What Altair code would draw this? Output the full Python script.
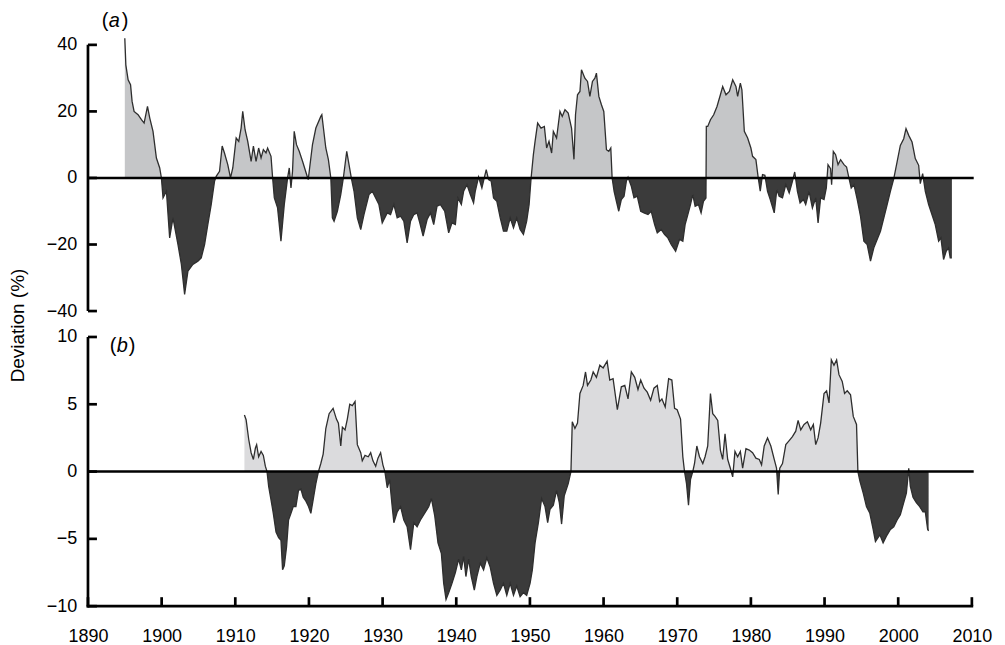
import altair as alt
import pandas as pd

# ---------------- data ----------------
A_YEAR = [
    1895.0, 1895.14, 1895.45, 1895.78, 1895.99, 1896.26, 1896.80, 1897.26, 1897.62, 1898.08,
    1898.39, 1898.83, 1899.29, 1899.74, 1899.97, 1900.19, 1900.65, 1901.09, 1901.54, 1902.22,
    1902.68, 1903.12, 1903.57, 1904.24, 1904.92, 1905.38, 1905.83, 1906.27, 1906.73, 1907.18,
    1907.41, 1907.86, 1908.22, 1908.53, 1908.98, 1909.35, 1909.66, 1910.12, 1910.47, 1910.79,
    1911.01, 1911.33, 1911.69, 1912.15, 1912.46, 1912.82, 1913.17, 1913.50, 1913.81, 1914.17,
    1914.39, 1914.85, 1915.07, 1915.30, 1915.74, 1916.20, 1916.65, 1917.10, 1917.33, 1917.56,
    1917.77, 1918.00, 1918.31, 1918.68, 1919.13, 1919.90, 1920.48, 1920.94, 1921.61, 1921.75,
    1922.29, 1922.64, 1922.97, 1923.18, 1923.41, 1923.86, 1924.32, 1924.67, 1925.13, 1925.44,
    1925.75, 1926.12, 1926.57, 1927.03, 1927.47, 1928.15, 1928.60, 1929.06, 1929.50, 1929.95,
    1930.63, 1931.08, 1931.53, 1931.98, 1932.44, 1932.88, 1933.33, 1933.79, 1934.24, 1934.68,
    1935.05, 1935.50, 1936.04, 1936.50, 1936.94, 1937.39, 1937.85, 1938.43, 1938.97, 1939.42,
    1939.88, 1940.23, 1940.69, 1941.00, 1941.45, 1941.91, 1942.35, 1942.58, 1943.03, 1943.48,
    1944.07, 1944.38, 1944.75, 1945.06, 1945.51, 1945.97, 1946.41, 1946.86, 1947.32, 1947.77,
    1948.21, 1948.67, 1949.12, 1949.56, 1949.89, 1950.16, 1950.47, 1950.70, 1951.05, 1951.51,
    1951.96, 1952.27, 1952.59, 1952.95, 1953.18, 1953.62, 1954.08, 1954.39, 1954.76, 1955.20,
    1955.65, 1955.98, 1956.19, 1956.46, 1956.79, 1957.00, 1957.46, 1957.82, 1958.14, 1958.49,
    1958.82, 1959.03, 1959.36, 1959.71, 1960.03, 1960.39, 1960.71, 1960.98, 1961.16, 1961.43,
    1961.74, 1962.06, 1962.41, 1962.78, 1963.09, 1963.32, 1963.77, 1964.13, 1964.58, 1965.04,
    1965.49, 1966.03, 1966.47, 1966.93, 1967.29, 1967.83, 1968.29, 1968.73, 1969.18, 1969.78,
    1970.31, 1970.76, 1971.07, 1971.44, 1971.80, 1972.11, 1972.43, 1972.88, 1973.24, 1973.56,
    1973.90, 1973.95, 1974.14, 1974.51, 1974.95, 1975.40, 1975.86, 1976.17, 1976.62, 1977.08,
    1977.53, 1977.97, 1978.20, 1978.57, 1978.78, 1979.11, 1979.56, 1980.00, 1980.23, 1980.68,
    1981.00, 1981.27, 1981.58, 1981.90, 1982.26, 1982.63, 1983.17, 1983.52, 1983.84, 1984.29,
    1984.74, 1985.20, 1985.64, 1985.95, 1986.32, 1986.68, 1987.13, 1987.44, 1987.90, 1988.35,
    1988.80, 1989.12, 1989.47, 1989.93, 1990.24, 1990.47, 1990.82, 1990.96, 1991.19, 1991.50,
    1991.83, 1992.18, 1992.64, 1992.99, 1993.31, 1993.62, 1993.99, 1994.44, 1994.88, 1995.34,
    1995.79, 1996.24, 1996.69, 1997.14, 1997.59, 1998.05, 1998.50, 1998.94, 1999.40, 1999.85,
    2000.29, 2000.75, 2001.06, 2001.43, 2001.88, 2002.32, 2002.78, 2003.00, 2003.32, 2003.68,
    2004.13, 2004.58, 2005.03, 2005.49, 2005.80, 2006.16, 2006.52, 2006.84, 2007.06, 2007.29,
]
A_VAL = [
    42, 34, 29.5, 28, 23, 20, 19, 17.5, 16.5, 21.5,
    18, 14, 6, 3, 0, -6, -4, -18, -12, -20,
    -26, -35, -28, -26, -25, -24, -20, -14, -8, -1,
    0.5, 2, 9.6, 7.5, 4, 0, 3, 12, 11, 15,
    20, 14.5, 11, 5, 9.6, 5, 9, 6, 8.5, 7.5,
    9, 6.5, 0, -6, -9, -19, -8, 0, 3, -3,
    2, 14, 10, 8, 5, -0.5, 10, 15, 18.5, 19,
    9, 5.5, 0, -12, -13, -10, -5, 0, 8, 4,
    0, -4, -12, -15.5, -11, -5, -4, -6, -8, -13.5,
    -10.5, -11, -8, -12, -11.5, -13, -19.5, -13, -11, -10.5,
    -13.5, -17.5, -12.5, -10.5, -14, -8.5, -8, -10, -16.5, -13.5,
    -14, -6, -8, -4, -2, -5, -7.5, -4, 0.3, -3,
    2.5, -0.5, -1, -6, -7, -12, -16, -16, -12, -15,
    -12, -15.5, -17, -13, -8, 0, 7, 11, 16.5, 15,
    15.5, 9, 11, 7.5, 14, 12, 20, 18.5, 20.5, 19.5,
    15, 5.6, 19, 25, 26, 32.5, 30, 29, 24.5, 29,
    30, 31.5, 24.5, 22, 20, 8.5, 8, 9, 0, -4,
    -7, -10, -6.5, -5.5, -1, 0.2, -2.5, -6, -5.5, -10,
    -10.5, -11, -10, -14, -16.5, -15.5, -17, -18, -20, -22,
    -18.5, -19, -14, -11, -8, -5, -8.5, -8, -10.5, -7,
    -6, 15.5, 15.5, 17.5, 19, 21.5, 25, 27.5, 25, 26,
    29.5, 27.5, 24.5, 28.5, 26.5, 14, 12, 9, 6.5, 5.5,
    0, -4, 1, 0.8, -4, -6.5, -10.5, -3.5, -5.5, -6,
    -2, -4.5, -1, 1.8, -4, -7.5, -6.5, -8, -4, -9,
    -6, -13.5, -6, -6.5, -3, 4, 2.8, -2, 8, 7,
    4, 5.5, 4, 3.3, 0, -3, -2, -6.5, -11.5, -19,
    -20, -25, -21, -18.5, -16, -12, -8, -4, -0.2, 4.8,
    9.8, 11.8, 14.8, 12.8, 10.8, 5.8, 3.8, -1.7, 1.3, -4,
    -8, -11, -14, -19, -18, -24.5, -22, -21, -24, -24,
]

B_YEAR = [
    1911.24, 1911.47, 1911.82, 1912.15, 1912.46, 1912.73, 1912.90, 1913.17, 1913.50, 1913.81,
    1914.08, 1914.31, 1914.53, 1914.85, 1915.16, 1915.53, 1915.88, 1916.20, 1916.42, 1916.65,
    1916.96, 1917.23, 1917.56, 1917.87, 1918.23, 1918.58, 1918.91, 1919.22, 1919.59, 1919.94,
    1920.26, 1920.57, 1920.94, 1921.29, 1921.61, 1921.93, 1922.29, 1922.74, 1923.28, 1923.73,
    1924.00, 1924.32, 1924.54, 1924.90, 1925.21, 1925.54, 1925.89, 1926.26, 1926.57, 1927.03,
    1927.24, 1927.61, 1928.05, 1928.38, 1928.69, 1929.06, 1929.37, 1929.73, 1930.04, 1930.31,
    1930.63, 1930.95, 1931.30, 1931.53, 1931.98, 1932.44, 1932.88, 1933.33, 1933.79, 1934.24,
    1934.68, 1935.14, 1935.82, 1936.27, 1936.63, 1937.08, 1937.52, 1937.98, 1938.29, 1938.61,
    1938.97, 1939.42, 1939.88, 1940.32, 1940.69, 1941.00, 1941.31, 1941.68, 1942.04, 1942.45,
    1942.80, 1943.26, 1943.71, 1944.15, 1944.61, 1945.06, 1945.51, 1945.97, 1946.41, 1946.86,
    1947.32, 1947.77, 1948.21, 1948.67, 1949.12, 1949.56, 1950.02, 1950.33, 1950.70, 1951.15,
    1951.59, 1952.05, 1952.41, 1952.73, 1953.18, 1953.62, 1953.99, 1954.30, 1954.66, 1955.20,
    1955.57, 1955.75, 1956.11, 1956.46, 1956.79, 1957.23, 1957.55, 1957.82, 1958.27, 1958.59,
    1959.03, 1959.49, 1959.94, 1960.48, 1960.84, 1961.29, 1961.87, 1962.41, 1962.88, 1963.32,
    1963.77, 1964.23, 1964.67, 1965.04, 1965.49, 1965.93, 1966.39, 1966.84, 1967.29, 1967.61,
    1967.92, 1968.37, 1968.83, 1969.27, 1969.64, 1969.99, 1970.45, 1970.76, 1970.99, 1971.26,
    1971.53, 1971.80, 1972.11, 1972.35, 1972.66, 1973.02, 1973.47, 1973.78, 1974.14, 1974.51,
    1974.82, 1975.13, 1975.50, 1975.86, 1976.17, 1976.49, 1976.85, 1977.21, 1977.53, 1977.84,
    1978.20, 1978.57, 1978.88, 1979.33, 1979.78, 1980.23, 1980.68, 1981.14, 1981.45, 1981.81,
    1982.26, 1982.71, 1983.17, 1983.48, 1983.71, 1983.92, 1984.29, 1984.74, 1985.20, 1985.64,
    1986.09, 1986.41, 1986.77, 1987.22, 1987.67, 1988.12, 1988.48, 1988.80, 1989.12, 1989.47,
    1989.93, 1990.28, 1990.61, 1990.92, 1991.28, 1991.64, 1991.96, 1992.40, 1992.72, 1993.08,
    1993.53, 1993.90, 1994.34, 1994.53, 1994.80, 1995.25, 1995.69, 1996.15, 1996.60, 1996.91,
    1997.51, 1997.95, 1998.40, 1998.94, 1999.40, 1999.85, 2000.29, 2000.75, 2001.11, 2001.43,
    2001.65, 2002.01, 2002.46, 2002.92, 2003.36, 2003.68, 2004.00, 2004.13,
]
B_VAL = [
    4.2, 3.85, 2.4, 1.4, 0.9, 1.75, 2.0, 1.1, 1.5, 1.2,
    0.4, 0, -1.1, -2.1, -3.1, -4.5, -4.9, -5.1, -7.3, -7.0,
    -5.6, -3.6, -3.1, -2.6, -2.6, -1.4, -1.3, -1.9, -2.2, -2.6,
    -3.1, -2.1, -0.9, 0, 0.6, 1.3, 3.2, 4.3, 4.7, 3.9,
    3.6, 1.9, 3.3, 3.1, 3.9, 5.0, 4.9, 5.2, 2.0, 1.4,
    0.8, 1.2, 1.1, 1.4, 0.8, 0.4, 1.0, 1.4, 0.5, 0,
    -1.2, -0.6, -2.6, -3.8, -3.0, -2.6, -3.6, -4.1, -5.8, -3.8,
    -4.1, -3.6, -3.0, -2.6, -2.0, -3.3, -5.3, -6.1, -8.3, -9.5,
    -9.0, -8.3, -7.5, -6.5, -7.3, -6.3, -7.8, -6.5, -7.8, -8.8,
    -7.8, -6.8, -7.3, -6.4, -7.1, -8.3, -9.2, -8.8, -8.3, -9.2,
    -8.3, -9.2, -8.5, -9.3, -9.0, -9.2, -8.3, -7.3, -5.3, -3.8,
    -2.0, -2.6, -3.8, -2.8, -2.5, -1.4, -2.3, -3.9, -1.8, -0.9,
    0, 3.7, 3.2, 3.6, 5.8, 6.4, 7.4, 6.4, 6.8, 7.4,
    7.0, 7.9, 7.7, 8.2, 6.8, 6.9, 4.6, 6.3, 6.4, 5.4,
    7.4, 7.0, 6.1, 6.8, 6.2, 5.9, 5.3, 6.2, 6.4, 5.2,
    5.4, 4.8, 6.9, 6.8, 4.7, 4.6, 3.9, 1.1, 0, -0.9,
    -2.5, -0.6, 0, 0.6, 1.9, 1.1, 0.6, 1.1, 1.9, 5.8,
    4.3, 4.1, 3.8, 1.6, 0.9, 2.8, 0.9, 0.25, -0.4, 1.5,
    1.1, 1.5, 0.25, 1.7, 1.6, 1.4, 1.0, 0.9, 0.5, 1.9,
    2.5, 1.9, 0.9, 0.25, -1.7, 0.25, 0.6, 2.0, 2.3, 2.6,
    3.0, 3.8, 3.1, 3.5, 3.7, 3.1, 3.5, 2.0, 2.5, 3.6,
    5.8, 6.0, 5.1, 8.3, 7.9, 8.3, 7.2, 6.7, 5.8, 6.0,
    5.7, 4.1, 3.5, 0, -0.7, -1.6, -2.6, -3.1, -4.3, -5.2,
    -4.7, -5.3, -4.8, -4.3, -4.1, -3.6, -3.2, -2.3, -1.6, 0.25,
    -1.1, -1.9, -2.3, -2.6, -3.0, -3.0, -4.3, -4.4,
]

X_TICKS = [1890, 1900, 1910, 1920, 1930, 1940, 1950, 1960, 1970, 1980, 1990, 2000, 2010]
A_TICKS = [-40, -20, 0, 20, 40]
B_TICKS = [-10, -5, 0, 5, 10]
A_RANGE = [-40, 40]
B_RANGE = [-10, 10]
X_RANGE = [1890, 2010]
Y_TITLE = "Deviation (%)"

# ---------------- styling / layout ----------------
FONT = "Liberation Sans"
LIGHT_A = "#c5c6c8"
LIGHT_B = "#dbdbdd"
DARK = "#3b3b3b"
LINE = "#2e2e2e"
PX_PER_YEAR = 7.392
X_PAD = 0.3
X_DOM = [X_RANGE[0] - X_PAD, X_RANGE[1] + X_PAD]
TICK_PX = 9
FRAME_PX = 2.7
W = round((X_DOM[1] - X_DOM[0]) * PX_PER_YEAR)


def with_crossings(years, vals):
    rows = []
    for i, (x, v) in enumerate(zip(years, vals)):
        if i > 0:
            x0, v0 = years[i - 1], vals[i - 1]
            if v0 * v < 0:
                xc = x0 + (x - x0) * (v0 / (v0 - v))
                rows.append((xc, 0.0))
        rows.append((x, float(v)))
    df = pd.DataFrame(rows, columns=["year", "value"])
    df["pos"] = df["value"].clip(lower=0)
    df["neg"] = df["value"].clip(upper=0)
    return df


def frame_rects(yrange, yticks, px_per_unit, bottom):
    """Axis lines and inward ticks as thin filled rectangles (data units)."""
    hx = FRAME_PX / 2 / PX_PER_YEAR      # half line width in years
    hy = FRAME_PX / 2 / px_per_unit      # half line width in y units
    tx = TICK_PX / PX_PER_YEAR
    ty = TICK_PX / px_per_unit
    x0 = X_RANGE[0]
    rects = []
    ybot = yrange[0] - (hy if bottom else 0)
    rects.append((x0 - hx, x0 + hx, ybot, yrange[1]))                # y axis line
    for t in yticks:
        rects.append((x0, x0 + tx, t - hy, t + hy))                  # y ticks
    if bottom:
        rects.append((x0 - hx, X_RANGE[1] + hx, yrange[0] - hy, yrange[0] + hy))
        for t in X_TICKS:
            rects.append((t - hx, t + hx, yrange[0], yrange[0] + ty))  # x ticks
    return pd.DataFrame(rects, columns=["rx1", "rx2", "ry1", "ry2"])


def panel(years, vals, yrange, yticks, px_per_unit, light, letter, bottom, with_title,
          lx, ly, offs):
    df = with_crossings(years, vals)
    ypad = 2.0 / px_per_unit
    ydom = [yrange[0] - ypad, yrange[1] + ypad]
    h = round((ydom[1] - ydom[0]) * px_per_unit)

    xs = alt.Scale(domain=X_DOM, nice=False, zero=False)
    ys = alt.Scale(domain=ydom, nice=False, zero=False)
    common = dict(
        domain=False, ticks=False, labelFontSize=18, labelColor="black",
        labelFont=FONT, grid=False,
    )
    if bottom:
        xaxis = alt.Axis(values=X_TICKS, format="d", labelPadding=19, title=None,
                         labelFlush=False, labelOverlap=False, **common)
    else:
        xaxis = None
    if with_title:
        yaxis = alt.Axis(values=yticks, labelPadding=9, title=Y_TITLE,
                         titleX=-68, titleY=283, titleFontSize=19,
                         titleFontWeight="normal", titleFont=FONT, titleColor="black",
                         titleAlign="center", titleBaseline="middle", titleAngle=-90,
                         **common)
    else:
        yaxis = alt.Axis(values=yticks, labelPadding=9, title=None, **common)

    X = alt.X("year:Q", scale=xs, axis=xaxis)
    base = alt.Chart(df)
    pos = base.mark_area(color=light, opacity=1).encode(
        x=X, y=alt.Y("pos:Q", scale=ys, axis=yaxis), y2=alt.datum(0))
    neg = base.mark_area(color=DARK, opacity=1).encode(
        x="year:Q", y="neg:Q", y2=alt.datum(0))
    line = base.mark_line(color=LINE, strokeWidth=1.3).encode(
        x="year:Q", y="value:Q")

    zdf = pd.DataFrame({"xa": [X_RANGE[0]], "xb": [X_RANGE[1] + 0.25], "yz": [0.0]})
    zero = alt.Chart(zdf).mark_rule(color="black", strokeWidth=2.6).encode(
        x="xa:Q", x2="xb:Q", y="yz:Q")

    rects = frame_rects(yrange, yticks, px_per_unit, bottom)
    frame = alt.Chart(rects).mark_rect(color="black", opacity=1, strokeWidth=0).encode(
        x="rx1:Q", x2="rx2:Q", y="ry1:Q", y2="ry2:Q")

    lab = pd.DataFrame({"s": ["("]})
    t1 = alt.Chart(lab).mark_text(text="(", align="left", baseline="middle", fontSize=20,
                                  font=FONT, color="black").encode(
        x=alt.value(lx), y=alt.value(ly))
    t2 = alt.Chart(lab).mark_text(text=letter, align="left", baseline="middle", fontSize=20,
                                  font=FONT, fontStyle="italic", color="black").encode(
        x=alt.value(lx + offs[0]), y=alt.value(ly))
    t3 = alt.Chart(lab).mark_text(text=")", align="left", baseline="middle", fontSize=20,
                                  font=FONT, color="black").encode(
        x=alt.value(lx + offs[1]), y=alt.value(ly))
    return alt.layer(pos, neg, line, zero, frame, t1, t2, t3).properties(width=W, height=h)


top = panel(A_YEAR, A_VAL, A_RANGE, A_TICKS, 3.3375, LIGHT_A, "a", False, True,
            16, -22, (7, 20))
bot = panel(B_YEAR, B_VAL, B_RANGE, B_TICKS, 13.5, LIGHT_B, "b", True, False,
            24, 11, (7, 19))

chart = (
    alt.vconcat(top, bot, spacing=22, bounds="flush")
    .resolve_scale(y="independent")
    .configure_view(stroke=None)
    .properties(padding={"left": 1, "top": 2, "right": 5, "bottom": 5})
)

chart.save("out.html", embed_options={"renderer": "svg", "actions": False})
